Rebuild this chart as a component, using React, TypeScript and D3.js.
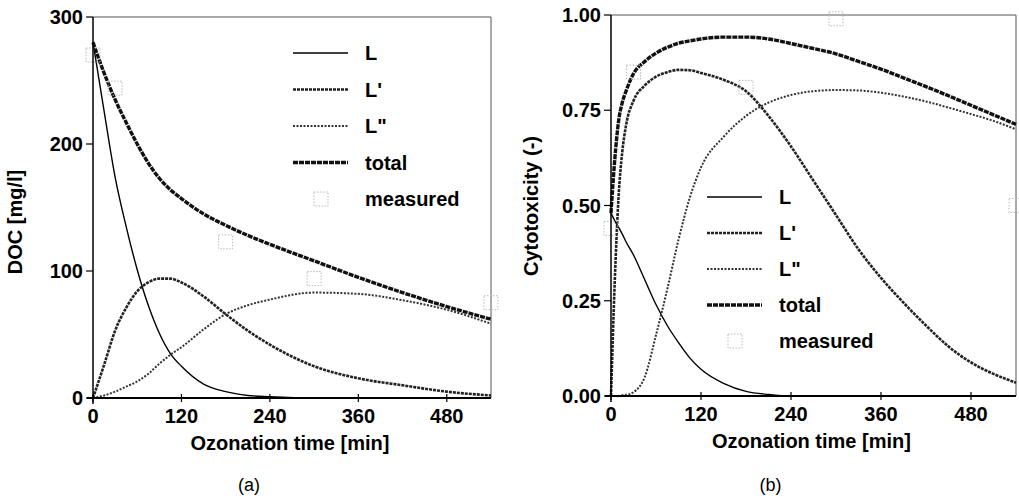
import React from 'react';
import * as d3 from 'd3';

// ---- panel (a): DOC ----
const timeA = [0, 15, 30, 45, 60, 75, 90, 105, 120, 150, 180, 210, 240, 300, 360, 420, 480, 540];
const docL = [280, 226, 174, 135, 101, 73, 51, 35, 25, 11, 5, 2, 1, 0, 0, 0, 0, 0];
const docL1 = [0, 26, 53, 71, 84, 91, 94, 94, 91, 80, 66, 53, 42, 25, 15.5, 10, 5, 2];
const docL2 = [0, 2, 5, 9, 13, 19, 27, 34, 40, 54, 66, 73, 77.5, 83, 82, 77, 69.5, 58.5];
const docTotal = [280, 256, 235, 217, 200, 185, 173, 164, 157, 145, 136, 128, 121, 108, 95, 83, 72, 62];

// ---- panel (b): cytotoxicity ----
const timeB = [0, 5, 10, 15, 20, 30, 45, 60, 75, 90, 105, 120, 150, 180, 210, 240, 270, 300, 330, 360, 390, 420, 450, 480, 510, 540];
const cytL = [0.48, 0.46, 0.443, 0.425, 0.405, 0.37, 0.305, 0.24, 0.185, 0.14, 0.1, 0.07, 0.033, 0.012, 0.004, 0, 0, 0, 0, 0, 0, 0, 0, 0, 0, 0];
const cytL1 = [0, 0.3, 0.52, 0.64, 0.71, 0.775, 0.815, 0.838, 0.85, 0.856, 0.855, 0.848, 0.83, 0.8, 0.735, 0.655, 0.565, 0.475, 0.385, 0.31, 0.245, 0.185, 0.13, 0.088, 0.058, 0.035];
const cytL2 = [0, 0, 0, 0.002, 0.003, 0.01, 0.05, 0.16, 0.28, 0.41, 0.52, 0.6, 0.68, 0.735, 0.77, 0.79, 0.8, 0.803, 0.802, 0.796, 0.786, 0.773, 0.757, 0.74, 0.722, 0.7];
const cytTotal = [0.48, 0.62, 0.72, 0.77, 0.8, 0.846, 0.878, 0.9, 0.915, 0.926, 0.932, 0.937, 0.942, 0.942, 0.937, 0.925, 0.912, 0.898, 0.878, 0.858, 0.835, 0.812, 0.788, 0.763, 0.738, 0.713];

// measured points
const measTime = [0, 30, 180, 300, 540];
const measDoc = [270, 244, 123, 94, 75];
const measCyt = [0.44, 0.85, 0.81, 0.99, 0.5];

const xTicks = [0, 120, 240, 360, 480];
const docTicks = [0, 100, 200, 300];
const cytTicks = [0, 0.25, 0.5, 0.75, 1.0];

const seriesNames = ['L', "L'", 'L"', 'total'];

const styles: Record<string, { w: number; dash?: string; c: string }> = {
  L: { w: 1.4, c: '#000' },
  "L'": { w: 2.6, dash: '3,1', c: '#222' },
  'L"': { w: 2, dash: '2,1.5', c: '#333' },
  total: { w: 3.4, dash: '5,1', c: '#111' },
};

const FONT = 'Liberation Sans, Arial, sans-serif';
const FS = 20;

type PanelProps = {
  x0: number; x1: number; y0: number; y1: number;
  yMax: number; yTicks: number[]; yFmt: (v: number) => string;
  times: number[]; series: number[][]; meas: number[];
  yTitle: string; yTitleX: number; yTitleY: number;
  legendX: number; legendY: number; legendGap: number;
  caption: string;
};

function Panel(p: PanelProps) {
  const x = d3.scaleLinear().domain([0, 540]).range([p.x0, p.x1]);
  const y = d3.scaleLinear().domain([0, p.yMax]).range([p.y0, p.y1]);
  const line = d3.line<number>()
    .x((_, i) => x(p.times[i]))
    .y(d => y(d))
    .curve(d3.curveMonotoneX);
  const cx = (p.x0 + p.x1) / 2;

  return (
    <g fontFamily={FONT}>
      {/* frame */}
      <line x1={p.x0} x2={p.x1} y1={p.y1} y2={p.y1} stroke="#555" strokeWidth={1} />
      <line x1={p.x1} x2={p.x1} y1={p.y1} y2={p.y0} stroke="#555" strokeWidth={1} />

      {/* curves */}
      {p.series.map((s, i) => {
        const st = styles[seriesNames[i]];
        return (
          <path key={i} d={line(s) || ''} fill="none" stroke={st.c}
            strokeWidth={st.w} strokeDasharray={st.dash} />
        );
      })}

      {/* measured */}
      {measTime.map((t, i) => (
        <rect key={i} x={x(t) - 7} y={y(p.meas[i]) - 7} width={14} height={14}
          fill="none" stroke="#bbb" strokeWidth={1} strokeDasharray="1.5,1.5" />
      ))}

      {/* axes */}
      <line x1={p.x0 - 6} x2={p.x1} y1={p.y0} y2={p.y0} stroke="#000" strokeWidth={2} />
      <line x1={p.x0} x2={p.x0} y1={p.y1} y2={p.y0 + 6} stroke="#000" strokeWidth={1.5} />
      {p.yTicks.map(v => (
        <g key={v}>
          <line x1={p.x0 - 7} x2={p.x0} y1={y(v)} y2={y(v)} stroke="#000" strokeWidth={1.2} />
          <text x={p.x0 - 10} y={y(v)} dy="0.35em" textAnchor="end"
            fontSize={FS} fontWeight="bold">{p.yFmt(v)}</text>
        </g>
      ))}
      {xTicks.map(t => (
        <g key={t}>
          <line x1={x(t)} x2={x(t)} y1={p.y0 - 4} y2={p.y0 + 4} stroke="#000" strokeWidth={1.2} />
          <text x={x(t)} y={p.y0 + 25} textAnchor="middle" fontSize={FS} fontWeight="bold">{t}</text>
        </g>
      ))}
      <text x={cx - 2} y={p.y0 + 52} textAnchor="middle" fontSize={FS} fontWeight="bold">Ozonation time [min]</text>
      <text transform={`translate(${p.yTitleX},${p.yTitleY}) rotate(-90)`} textAnchor="middle"
        fontSize={FS} fontWeight="bold">{p.yTitle}</text>
      <text x={cx - 43} y={491} textAnchor="middle" fontSize={18}>{p.caption}</text>

      {/* legend */}
      {seriesNames.map((n, i) => {
        const st = styles[n];
        const ly = p.legendY + i * p.legendGap;
        return (
          <g key={n}>
            <line x1={p.legendX} x2={p.legendX + 55} y1={ly} y2={ly} stroke={st.c}
              strokeWidth={st.w} strokeDasharray={st.dash} />
            <text x={p.legendX + 72} y={ly} dy="0.35em" fontSize={FS} fontWeight="bold">{n}</text>
          </g>
        );
      })}
      <rect x={p.legendX + 21} y={p.legendY + 4 * p.legendGap - 7} width={14} height={14}
        fill="none" stroke="#bbb" strokeWidth={1} strokeDasharray="1.5,1.5" />
      <text x={p.legendX + 72} y={p.legendY + 4 * p.legendGap} dy="0.35em"
        fontSize={FS} fontWeight="bold">measured</text>
    </g>
  );
}

export default function App() {
  return (
    <svg width={1019} height={499} style={{ position: 'absolute', left: 0, top: 0, background: '#fff' }}>
      <Panel x0={93} x1={491} y0={398} y1={17} yMax={300} yTicks={docTicks}
        yFmt={v => String(v)} times={timeA} series={[docL, docL1, docL2, docTotal]} meas={measDoc}
        yTitle="DOC [mg/l]" yTitleX={22} yTitleY={222}
        legendX={293} legendY={53} legendGap={36.5} caption="(a)" />
      <Panel x0={611} x1={1016} y0={396} y1={15} yMax={1} yTicks={cytTicks}
        yFmt={v => v.toFixed(2)} times={timeB} series={[cytL, cytL1, cytL2, cytTotal]} meas={measCyt}
        yTitle="Cytotoxicity (-)" yTitleX={538} yTitleY={206}
        legendX={707} legendY={197} legendGap={36} caption="(b)" />
    </svg>
  );
}
